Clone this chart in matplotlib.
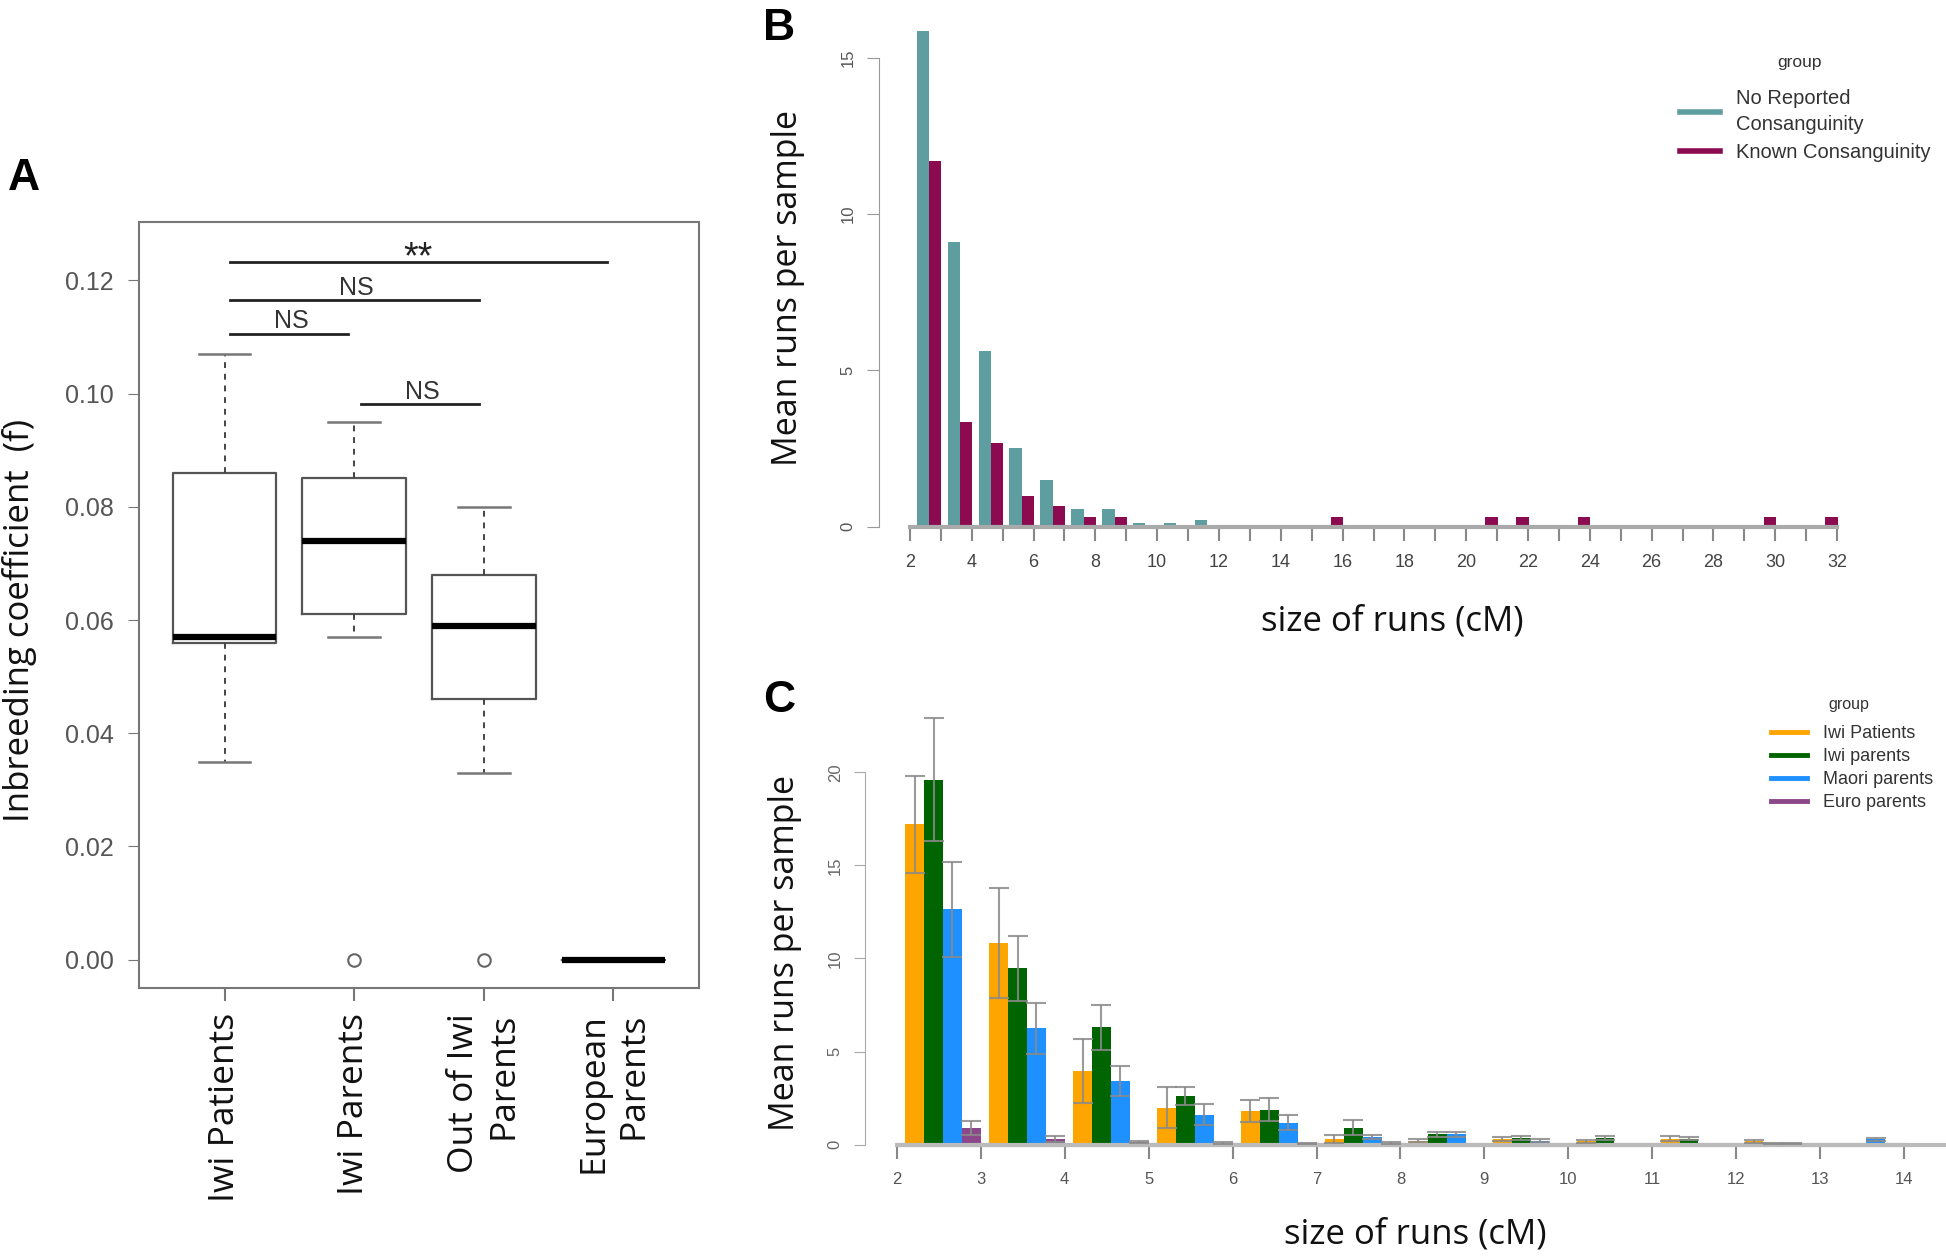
import matplotlib
matplotlib.use("Agg")
import matplotlib.pyplot as plt
from matplotlib.lines import Line2D
import numpy as np

plt.rcParams['font.family'] = ['Liberation Sans', 'DejaVu Sans']

# ---- panel A: inbreeding coefficient boxplots
a_groups = ["Iwi Patients", "Iwi Parents", "Out of Iwi\nParents", "European\nParents"]
a_lo = [0.035, 0.057, 0.033, 0.0]
a_q1 = [0.056, 0.061, 0.046, 0.0]
a_med = [0.057, 0.074, 0.059, 0.0]
a_q3 = [0.086, 0.085, 0.068, 0.0]
a_hi = [0.107, 0.095, 0.080, 0.0]
a_out = [[], [0.0], [0.0], []]
a_yticks = [0.00, 0.02, 0.04, 0.06, 0.08, 0.10, 0.12]
# significance bars: from, to, height, label
sig_from = [1.04, 1.04, 1.04, 2.05]
sig_to = [3.95, 2.96, 1.95, 2.96]
sig_y = [0.1233, 0.1165, 0.1106, 0.0982]
sig_lab = ["**", "NS", "NS", "NS"]

# ---- panel B: runs of homozygosity, consanguinity
b_bins = np.arange(2, 32)
b_none = [15.86, 9.10, 5.60, 2.51, 1.48, 0.57, 0.57, 0.13, 0.13, 0.22,
          0, 0, 0, 0, 0, 0, 0, 0, 0, 0, 0, 0, 0, 0, 0, 0, 0, 0, 0, 0]
b_known = [11.68, 3.33, 2.68, 0.98, 0.65, 0.32, 0.32, 0, 0, 0,
           0, 0, 0, 0.32, 0, 0, 0, 0, 0.32, 0.32, 0, 0.32, 0, 0, 0, 0, 0, 0.32, 0, 0.32]
b_labels = ["No Reported\nConsanguinity", "Known Consanguinity"]

# ---- panel C: runs per group with error bars
c_bins = np.arange(2, 14)
c_names = ["Iwi Patients", "Iwi parents", "Maori parents", "Euro parents"]
c_patients = [17.2, 10.85, 3.96, 1.98, 1.82, 0.30, 0.22, 0.30, 0.18, 0.32, 0.18, 0]
c_iwi = [19.6, 9.47, 6.30, 2.61, 1.88, 0.90, 0.55, 0.35, 0.35, 0.33, 0.08, 0]
c_maori = [12.63, 6.24, 3.41, 1.62, 1.19, 0.40, 0.55, 0.22, 0, 0, 0.08, 0.30]
c_euro = [0.89, 0.30, 0.16, 0.10, 0.05, 0.10, 0, 0, 0, 0, 0, 0]
c_patients_err = [2.6, 2.95, 1.7, 1.1, 0.6, 0.2, 0.1, 0.12, 0.08, 0.12, 0.08, 0]
c_iwi_err = [3.3, 1.75, 1.2, 0.5, 0.6, 0.4, 0.15, 0.1, 0.1, 0.1, 0.03, 0]
c_maori_err = [2.55, 1.35, 0.82, 0.55, 0.4, 0.12, 0.15, 0.06, 0, 0, 0.03, 0.08]
c_euro_err = [0.38, 0.15, 0.05, 0.04, 0.03, 0.04, 0, 0, 0, 0, 0, 0]

W, H = 1946, 1258


def box(l, t, r, b):
    return [l / W, 1 - b / H, (r - l) / W, (b - t) / H]


fig = plt.figure(figsize=(W / 100, H / 100), dpi=100)
label_font = ['Open Sans', 'DejaVu Sans']

# ================= A
axA = fig.add_axes(box(139, 222, 699, 988))
stats = []
for i in range(4):
    stats.append(dict(whislo=a_lo[i], q1=a_q1[i], med=a_med[i], q3=a_q3[i],
                      whishi=a_hi[i], fliers=a_out[i]))
axA.bxp(stats, positions=[1, 2, 3, 4], widths=0.8, capwidths=0.4,
        boxprops=dict(color='#555555', lw=1.6),
        medianprops=dict(color='black', lw=4.5),
        whiskerprops=dict(color='#444444', lw=1.4, linestyle=(0, (3, 3))),
        capprops=dict(color='#777777', lw=1.8),
        flierprops=dict(marker='o', mfc='none', mec='#666666', ms=9, mew=1.5))
for x1, x2, y, lab in zip(sig_from, sig_to, sig_y, sig_lab):
    axA.plot([x1, x2], [y, y], color='#222222', lw=2)
    if lab == "**":
        axA.text((x1 + x2) / 2, y - 0.0011, lab, ha='center', va='baseline',
                 color='#222222', fontsize=27)
    else:
        axA.text((x1 + x2) / 2 + 0.02, y + 0.0009, lab, ha='center', va='baseline',
                 color='#333333', fontsize=18)
axA.set_xlim(0.34, 4.66)
axA.set_ylim(-0.005, 0.1303)
axA.set_yticks(a_yticks)
axA.set_yticklabels(["%.2f" % v for v in a_yticks])
axA.set_xticks([1, 2, 3, 4])
axA.set_xticklabels(a_groups, rotation=90, va='top', ha='center',
                    multialignment='right', family=label_font, fontsize=25.5, color='#111111')
axA.tick_params(axis='y', labelsize=18, labelcolor='#555555', color='#777777', length=8, pad=10)
axA.tick_params(axis='x', color='#777777', length=9, pad=9, width=1.5)
for s in axA.spines.values():
    s.set_color('#777777')
    s.set_linewidth(1.5)
axA.set_ylabel("Inbreeding coefficient  (f)", family=label_font, fontsize=25, color='#111111')
axA.yaxis.set_label_coords(-0.183, 0.48)
fig.text(8 / W, 1 - 190 / H, "A", fontsize=32, fontweight='bold')

# ================= B
axB = fig.add_axes(box(879, 20, 1868, 536))
axB.bar(b_bins + 0.42, b_none, width=0.4, color='#5F9EA0', linewidth=0)
axB.bar(b_bins + 0.82, b_known, width=0.4, color='#8B0A50', linewidth=0)
axB.set_xlim(1, 33)
axB.set_ylim(-0.3, 16.2)
axB.spines['top'].set_visible(False)
axB.spines['right'].set_visible(False)
axB.spines['left'].set_bounds(0, 15)
axB.spines['left'].set_color('#999999')
axB.spines['bottom'].set_position(('data', 0))
axB.spines['bottom'].set_bounds(2, 32)
axB.spines['bottom'].set_color('#aaaaaa')
axB.spines['bottom'].set_linewidth(3)
axB.set_xticks(np.arange(2, 33))
axB.set_xticklabels([str(v) if v % 2 == 0 else "" for v in range(2, 33)])
axB.set_yticks([0, 5, 10, 15])
axB.tick_params(axis='x', labelsize=13, labelcolor='#444444', color='#888888', length=10, width=1.5, pad=10)
axB.tick_params(axis='y', labelsize=12, labelcolor='#555555', color='#999999', length=9, pad=8, labelrotation=90)
for t in axB.get_yticklabels():
    t.set_va('center')
axB.set_ylabel("Mean runs per sample", family=label_font, fontsize=24.5, color='#111111')
axB.yaxis.set_label_coords(-0.075, 0.48)
axB.set_xlabel("size of runs (cM)", family=label_font, fontsize=25, color='#111111')
axB.xaxis.set_label_coords(0.519, -0.133)
hB = [Line2D([], [], color='#5F9EA0', lw=4), Line2D([], [], color='#8B0A50', lw=4)]
legB = fig.legend(hB, b_labels, loc='upper left',
                  bbox_to_anchor=(1680 / W, 1 - 89 / H), frameon=False,
                  fontsize=14.5, handlelength=2.0, handletextpad=0.8,
                  borderpad=0, borderaxespad=0, labelspacing=0.45)
for t in legB.get_texts():
    t.set_color('#333333')
    t.set_linespacing(1.45)
fig.text(1800 / W, 1 - 62 / H, "group", ha='center', va='center', fontsize=12.5, color='#333333')
fig.text(763 / W, 1 - 40 / H, "B", fontsize=32, fontweight='bold')

# ================= C
axC = fig.add_axes(box(865, 707, 1946, 1154))
c_series = [c_patients, c_iwi, c_maori, c_euro]
c_errs = [c_patients_err, c_iwi_err, c_maori_err, c_euro_err]
c_colors = ['#FFA500', '#006400', '#1E90FF', '#8B4789']
bw = 0.225
axC.hlines(0, 2, 14.5, color='#bbbbbb', lw=3, zorder=0)
for i in range(4):
    left = c_bins + 0.1 + i * bw
    axC.bar(left, c_series[i], width=bw, align='edge', color=c_colors[i], linewidth=0, zorder=2)
    vals = np.array(c_series[i])
    errs = np.array(c_errs[i])
    keep = vals > 0
    axC.errorbar(left[keep] + bw / 2, vals[keep], yerr=errs[keep], fmt='none',
                 ecolor='#8a8a8a', elinewidth=1.5, capsize=7, capthick=1.5, alpha=0.85, zorder=3)
axC.set_xlim(1.62, 14.5)
axC.set_ylim(-0.5, 23.5)
axC.spines['top'].set_visible(False)
axC.spines['right'].set_visible(False)
axC.spines['left'].set_bounds(0, 20)
axC.spines['left'].set_color('#aaaaaa')
axC.spines['bottom'].set_position(('data', 0))
axC.spines['bottom'].set_bounds(2, 14)
axC.spines['bottom'].set_color('#bbbbbb')
axC.spines['bottom'].set_linewidth(3)
axC.set_xticks(np.arange(2, 15))
axC.set_yticks([0, 5, 10, 15, 20])
axC.tick_params(axis='x', labelsize=12, labelcolor='#555555', color='#888888', length=10, width=1.5, pad=10)
axC.tick_params(axis='y', labelsize=12, labelcolor='#666666', color='#aaaaaa', length=8, pad=8, labelrotation=90)
for t in axC.get_yticklabels():
    t.set_va('center')
axC.set_ylabel("Mean runs per sample", family=label_font, fontsize=24.5, color='#111111')
axC.yaxis.set_label_coords(-0.058, 0.45)
axC.set_xlabel("size of runs (cM)", family=label_font, fontsize=25, color='#111111')
axC.xaxis.set_label_coords(0.509, -0.143)
hC = [Line2D([], [], color=c, lw=3.5) for c in c_colors]
legC = fig.legend(hC, c_names, loc='upper left',
                  bbox_to_anchor=(1771 / W, 1 - 725 / H), frameon=False,
                  fontsize=13, handlelength=2.0, handletextpad=0.9,
                  borderpad=0, borderaxespad=0, labelspacing=0.33)
for t in legC.get_texts():
    t.set_color('#333333')
fig.text(1849 / W, 1 - 705 / H, "group", ha='center', va='center', fontsize=11.5, color='#333333')
fig.text(763 / W, 1 - 712 / H, "C", fontsize=32, fontweight='bold')

fig.savefig("out.png", dpi=100)
